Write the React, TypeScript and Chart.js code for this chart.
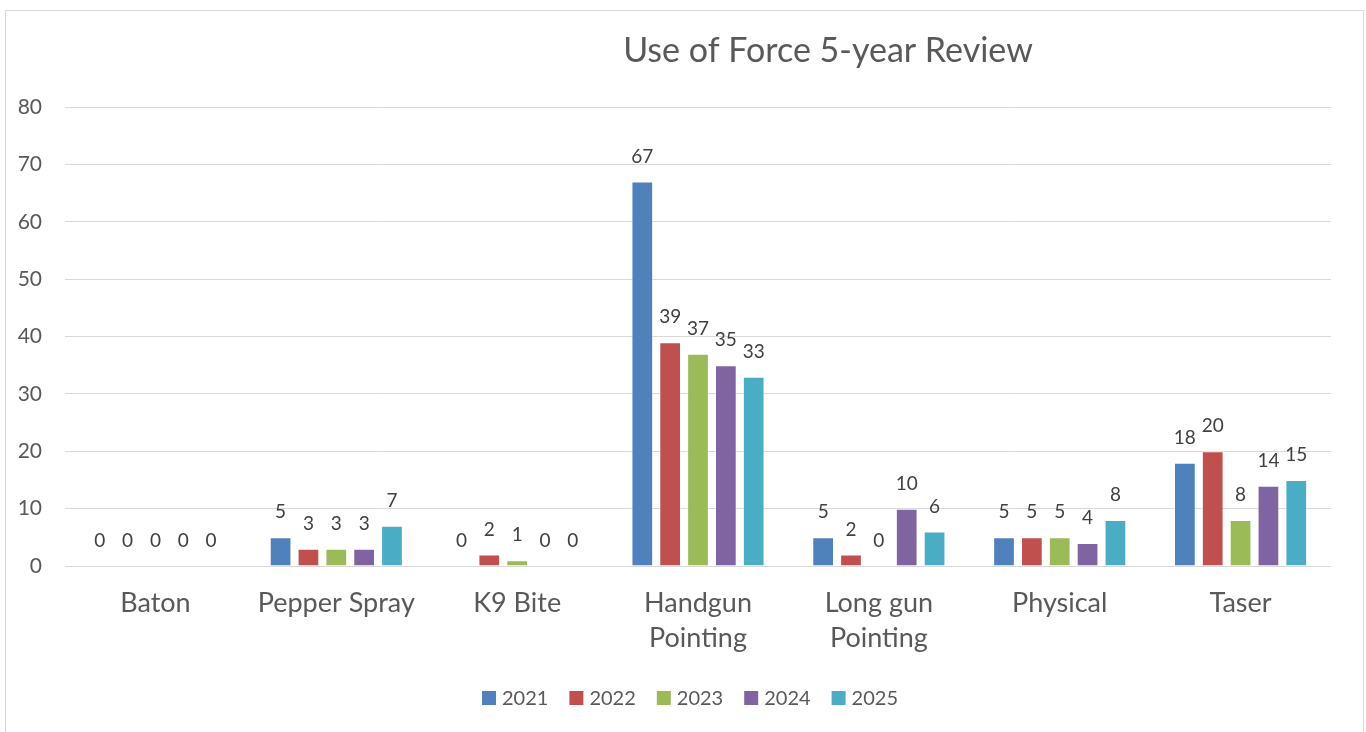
import React, { useEffect, useRef } from "react";
import { Chart, registerables } from "chart.js";

Chart.register(...registerables);

const categories: (string | string[])[] = [
  "Baton",
  "Pepper Spray",
  "K9 Bite",
  ["Handgun", "Pointing"],
  ["Long gun", "Pointing"],
  "Physical",
  "Taser",
];
const years = ["2021", "2022", "2023", "2024", "2025"];
const values2021 = [0, 5, 0, 67, 5, 5, 18];
const values2022 = [0, 3, 2, 39, 2, 5, 20];
const values2023 = [0, 3, 1, 37, 0, 5, 8];
const values2024 = [0, 3, 0, 35, 10, 4, 14];
const values2025 = [0, 7, 0, 33, 6, 8, 15];
const colors = ["#4F81BD", "#C0504D", "#9BBB59", "#8064A2", "#4BACC6"];
const titleText = "Use of Force 5-year Review";
const yMin = 0;
const yMax = 80;
const yStep = 10;

const FONT = "Lato, 'Open Sans', sans-serif";

const customPlugin = {
  id: "customDraw",
  afterDraw(chart: any) {
    const ctx = chart.ctx as CanvasRenderingContext2D;
    ctx.save();
    // title
    ctx.font = `34px ${FONT}`;
    ctx.fillStyle = "#595959";
    ctx.textAlign = "center";
    ctx.textBaseline = "alphabetic";
    ctx.fillText(titleText, 822, 51);

    // data labels
    ctx.font = `19px ${FONT}`;
    ctx.fillStyle = "#404040";
    ctx.textBaseline = "middle";
    chart.data.datasets.forEach((ds: any, di: number) => {
      const meta = chart.getDatasetMeta(di);
      meta.data.forEach((el: any, i: number) => {
        ctx.fillText(String(ds.data[i]), el.x, el.y - 25);
      });
    });

    // legend
    ctx.font = `20px ${FONT}`;
    ctx.fillStyle = "#595959";
    ctx.textAlign = "left";
    const box = 14;
    const gapBox = 6;
    const gapItem = 21;
    const widths = chart.data.datasets.map((ds: any) => ctx.measureText(ds.label).width);
    let total = 0;
    widths.forEach((w: number, i: number) => {
      total += box + gapBox + w + (i < widths.length - 1 ? gapItem : 0);
    });
    let x = 684 - total / 2;
    const cy = 687;
    chart.data.datasets.forEach((ds: any, i: number) => {
      ctx.fillStyle = ds.backgroundColor;
      ctx.fillRect(x, cy - box / 2, box, box);
      x += box + gapBox;
      ctx.fillStyle = "#595959";
      ctx.fillText(ds.label, x, cy + 1);
      x += widths[i] + gapItem;
    });
    ctx.restore();
  },
};

export default function App() {
  const ref = useRef<HTMLCanvasElement | null>(null);
  useEffect(() => {
    if (!ref.current) return;
    const series = [values2021, values2022, values2023, values2024, values2025];
    const chart = new Chart(ref.current, {
      type: "bar",
      data: {
        labels: categories,
        datasets: years.map((y, i) => ({
          label: y,
          data: series[i],
          backgroundColor: colors[i],
          borderColor: "rgba(255,255,255,0.5)",
          borderWidth: 1,
          categoryPercentage: 0.77,
          barPercentage: 0.78,
        })),
      },
      options: {
        responsive: false,
        maintainAspectRatio: false,
        animation: false,
        devicePixelRatio: 1,
        layout: { padding: { top: 96, right: 32, left: 0, bottom: 0 } },
        plugins: {
          legend: { display: false },
          title: { display: false },
          tooltip: { enabled: false },
        },
        scales: {
          x: {
            grid: { display: false },
            border: { display: false },
            ticks: {
              color: "#595959",
              font: { family: FONT, size: 27, lineHeight: 1.3 },
              padding: 12,
              maxRotation: 0,
              autoSkip: false,
            },
            afterFit: (scale: any) => {
              scale.height = 166;
            },
          },
          y: {
            min: yMin,
            max: yMax,
            ticks: {
              stepSize: yStep,
              color: "#595959",
              font: { family: FONT, size: 21 },
              padding: 23,
            },
            grid: { color: "#d9d9d9", lineWidth: 1, drawTicks: false },
            border: { display: false },
            afterFit: (scale: any) => {
              scale.width = 59;
            },
          },
        },
      },
      plugins: [customPlugin],
    });
    (document as any).fonts?.load?.(`20px Lato`).then(() => chart.update());
    return () => chart.destroy();
  }, []);

  return (
    <div
      style={{
        position: "fixed",
        left: 5,
        top: 10,
        width: 1359,
        height: 740,
        border: "1px solid #d9d9d9",
        boxSizing: "border-box",
        background: "#fff",
      }}
    >
      <canvas
        ref={ref}
        width={1357}
        height={721}
        style={{ position: "absolute", left: 0, top: 0, width: 1357, height: 721 }}
      />
    </div>
  );
}
